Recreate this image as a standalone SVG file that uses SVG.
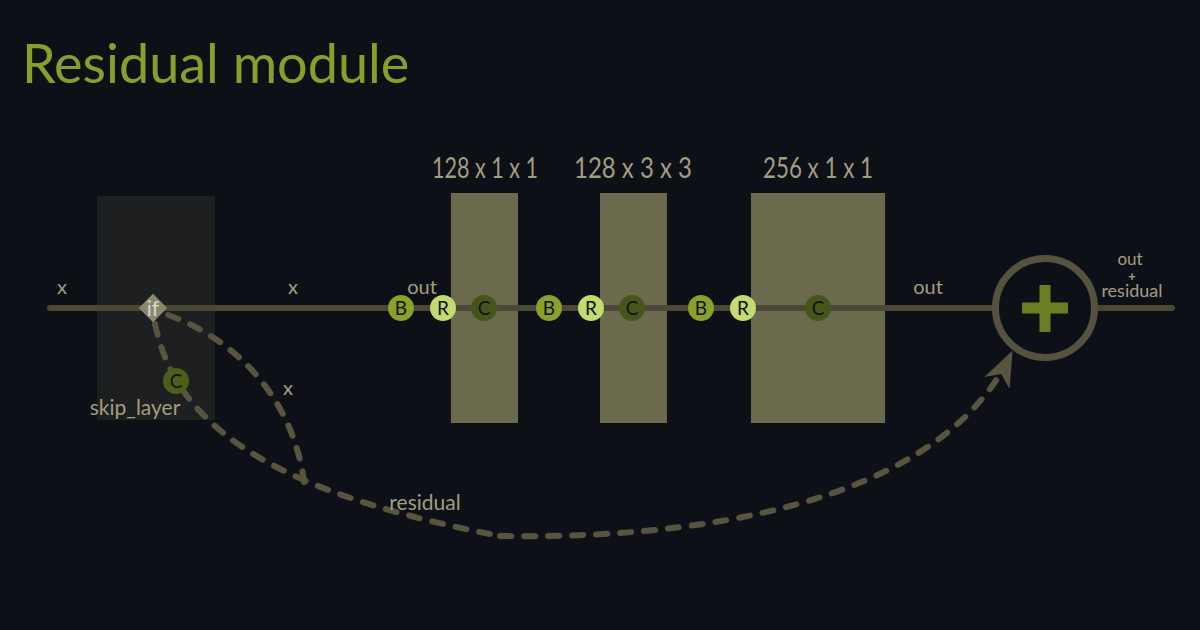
<svg xmlns="http://www.w3.org/2000/svg" width="1200" height="630" viewBox="0 0 1200 630">
<defs>
<style>
.lbl{font-family:"Lato","Open Sans","Liberation Sans",sans-serif;fill:#a59d80;text-anchor:middle}
.hdr{font-family:"Lato","Open Sans","Liberation Sans",sans-serif;fill:#a59d80;text-anchor:middle;font-size:29px}
.blk{fill:#6c6a4c}
.op text{font-family:"Lato","Open Sans","Liberation Sans",sans-serif;font-size:19px;fill:#111;text-anchor:middle}
.b{fill:#89a02a}
.r{fill:#c2da70}
.c{fill:#46561a}
.dash{fill:none;stroke:#58543f;stroke-width:6;stroke-linecap:round;stroke-dasharray:11 13}
</style>
<marker id="arr" markerUnits="userSpaceOnUse" markerWidth="40" markerHeight="40" viewBox="-34 -16 40 32" refX="0" refY="0" orient="auto">
<path d="M6,0 L-30,-14 L-20,0 L-30,14 Z" fill="#58543f"/>
</marker>
</defs>
<rect width="1200" height="630" fill="#0d1017"/>
<text x="22" y="83" font-family="Lato,'Open Sans','Liberation Sans',sans-serif" font-size="54" fill="#87a02a">Residual module</text>

<g id="skip_layer_box">
<rect x="97" y="196" width="118" height="224" fill="#1e1f21"/>
<text class="lbl" x="135" y="415" font-size="21">skip_layer</text>
</g>

<g id="block1"><rect class="blk" x="451" y="193" width="67" height="230"/><text class="hdr" x="485" y="178" textLength="106" lengthAdjust="spacingAndGlyphs">128 x 1 x 1</text></g>
<g id="block2"><rect class="blk" x="600" y="193" width="67" height="230"/><text class="hdr" x="633" y="178" textLength="118" lengthAdjust="spacingAndGlyphs">128 x 3 x 3</text></g>
<g id="block3"><rect class="blk" x="751" y="193" width="134" height="230"/><text class="hdr" x="818" y="178" textLength="110" lengthAdjust="spacingAndGlyphs">256 x 1 x 1</text></g>

<g id="connectors">
<line x1="50" y1="308" x2="992" y2="308" stroke="#4c4836" stroke-width="6" stroke-linecap="round"/>
<line x1="1098" y1="308" x2="1172" y2="308" stroke="#4c4836" stroke-width="6" stroke-linecap="round"/>
<path class="dash" d="M168,315 C225,335 295,390 305,490"/>
<path class="dash" d="M155,324 C175,420 260,490 500,536"/>
<path class="dash" d="M500,536 C760,540 950,480 1010,356" marker-end="url(#arr)"/>
<text class="lbl" x="62" y="294" font-size="20">x</text>
<text class="lbl" x="293" y="294" font-size="20">x</text>
<text class="lbl" x="422" y="294" font-size="20">out</text>
<text class="lbl" x="928" y="294" font-size="20">out</text>
<text class="lbl" x="288" y="395" font-size="20">x</text>
<text class="lbl" x="425" y="510" font-size="21">residual</text>
</g>

<g id="if">
<rect x="143" y="298" width="20" height="20" fill="#8a8670" transform="rotate(45 153 308)"/>
<text x="153" y="316" font-family="Lato,'Open Sans','Liberation Sans',sans-serif" font-size="21" fill="#dcd8c4" text-anchor="middle">if</text>
</g>
<g id="skip_conv" class="op"><circle class="c" cx="176" cy="381" r="13" style="fill:#4f5e1a"/><text x="176" y="388">C</text></g>

<g id="ops1" class="op">
<circle class="b" cx="401" cy="308" r="13"/><text x="401" y="315">B</text>
<circle class="r" cx="443" cy="308" r="13"/><text x="443" y="315">R</text>
<circle class="c" cx="484" cy="308" r="13"/><text x="484" y="315">C</text>
</g>
<g id="ops2" class="op">
<circle class="b" cx="549" cy="308" r="13"/><text x="549" y="315">B</text>
<circle class="r" cx="591" cy="308" r="13"/><text x="591" y="315">R</text>
<circle class="c" cx="632" cy="308" r="13"/><text x="632" y="315">C</text>
</g>
<g id="ops3" class="op">
<circle class="b" cx="701" cy="308" r="13"/><text x="701" y="315">B</text>
<circle class="r" cx="743" cy="308" r="13"/><text x="743" y="315">R</text>
<circle class="c" cx="818" cy="308" r="13"/><text x="818" y="315">C</text>
</g>

<g id="add">
<circle cx="1045" cy="308" r="49.5" fill="none" stroke="#57523f" stroke-width="7"/>
<rect x="1022" y="302.5" width="46" height="11" fill="#6b7f22"/>
<rect x="1039.5" y="285" width="11" height="47" fill="#6b7f22"/>
</g>
<g id="sum_label">
<text class="lbl" x="1130" y="265" font-size="17">out</text>
<text class="lbl" x="1132" y="281" font-size="13" font-weight="bold">+</text>
<text class="lbl" x="1132" y="297" font-size="18">residual</text>
</g>
</svg>
